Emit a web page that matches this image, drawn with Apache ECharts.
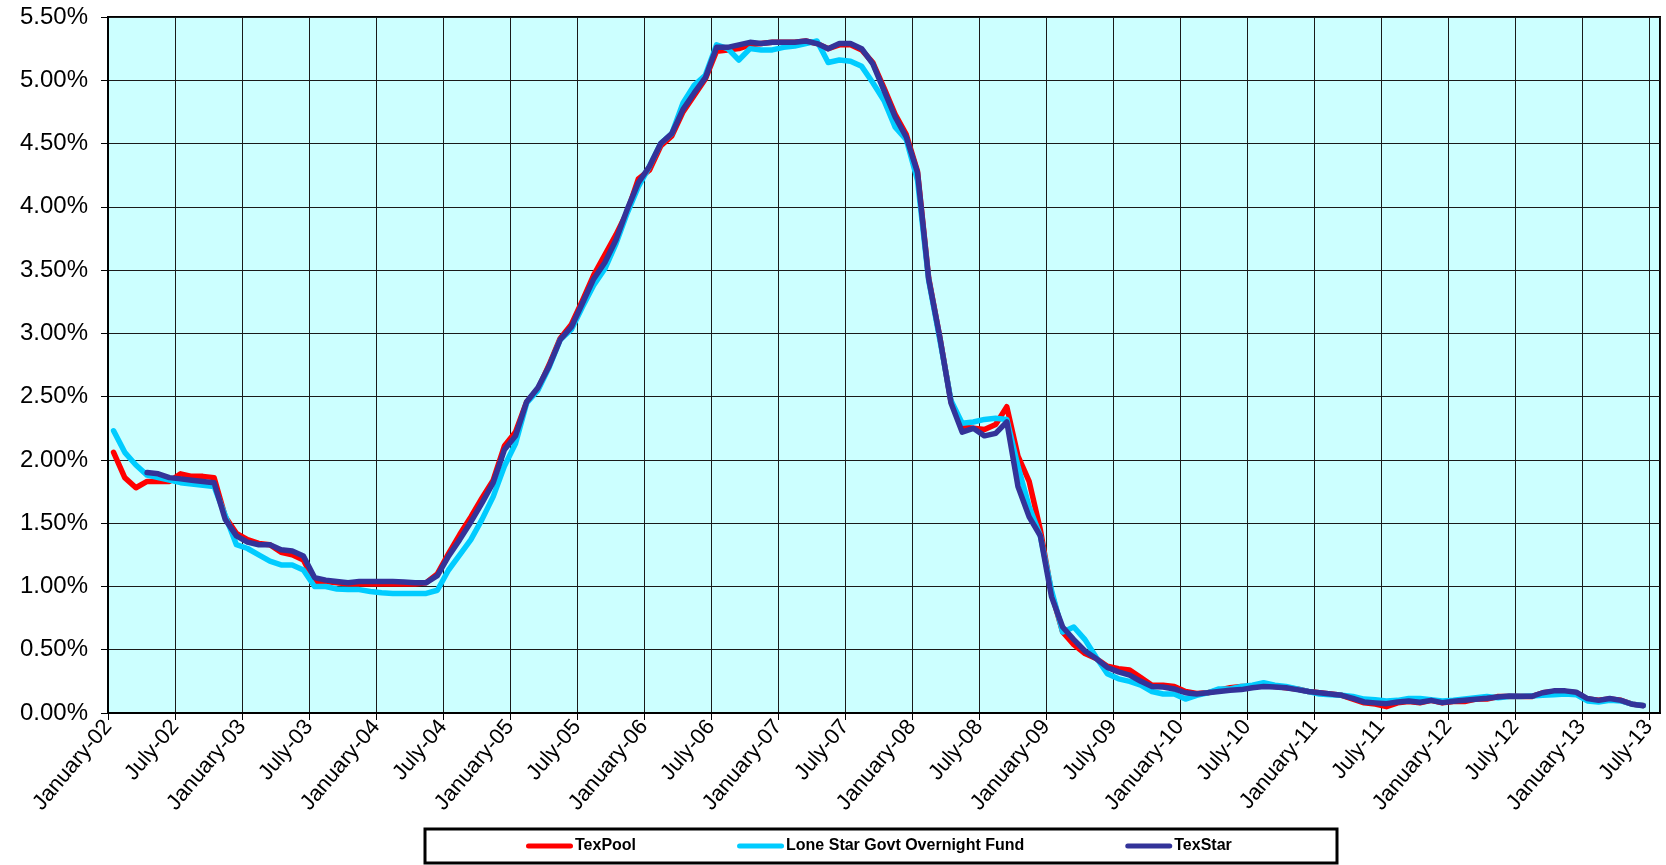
<!DOCTYPE html>
<html>
<head>
<meta charset="utf-8">
<script src="https://cdn.jsdelivr.net/npm/echarts@6/dist/echarts.min.js"></script>
<style>
html,body{margin:0;padding:0;background:#fff;}
#chart{width:1666px;height:865px;}
</style>
</head>
<body>
<div id="chart"></div>
<script>
// Month categories Jan-02 .. Jul-13
const monthNames = ['January','February','March','April','May','June','July','August','September','October','November','December'];
const months = [];
for (let y = 2; y <= 13; y++) {
  for (let m = 0; m < 12; m++) {
    if (y === 13 && m > 6) break;
    months.push(monthNames[m] + '-' + String(y).padStart(2, '0'));
  }
}

const yTicks = [0, 0.5, 1, 1.5, 2, 2.5, 3, 3.5, 4, 4.5, 5, 5.5];

const texPool = [
  2.06,1.86,1.78,1.83,1.83,1.83,1.89,1.87,1.87,1.86,1.55,1.42,
  1.37,1.34,1.33,1.27,1.25,1.21,1.04,1.04,1.03,1.02,1.02,1.02,
  1.02,1.02,1.02,1.02,1.03,1.10,1.26,1.41,1.55,1.70,1.84,2.11,
  2.22,2.46,2.56,2.75,2.96,3.07,3.26,3.46,3.62,3.78,3.96,4.22,
  4.29,4.48,4.56,4.75,4.88,5.01,5.23,5.24,5.25,5.28,5.29,5.30,
  5.30,5.30,5.31,5.29,5.25,5.28,5.28,5.24,5.14,4.94,4.73,4.57,
  4.28,3.44,2.97,2.46,2.26,2.25,2.24,2.28,2.42,2.03,1.83,1.45,
  0.95,0.64,0.54,0.47,0.43,0.37,0.35,0.34,0.28,0.22,0.22,0.21,
  0.17,0.155,0.16,0.18,0.20,0.21,0.21,0.22,0.21,0.20,0.19,0.17,
  0.16,0.15,0.14,0.11,0.08,0.07,0.05,0.08,0.09,0.08,0.10,0.08,
  0.09,0.09,0.11,0.11,0.13,0.13,0.13,0.13,0.16,0.17,0.17,0.16,
  0.11,0.10,0.11,0.10,0.07,0.06,null
];

const loneStar = [
  2.23,2.06,1.96,1.88,1.86,1.84,1.82,1.81,1.80,1.79,1.56,1.33,
  1.30,1.25,1.20,1.17,1.17,1.13,1.00,1.00,0.98,0.975,0.975,0.96,
  0.95,0.945,0.945,0.945,0.945,0.97,1.13,1.25,1.37,1.53,1.71,1.95,
  2.13,2.45,2.55,2.73,2.95,3.03,3.21,3.38,3.51,3.71,3.95,4.16,
  4.32,4.50,4.58,4.82,4.96,5.04,5.28,5.25,5.16,5.25,5.24,5.24,
  5.26,5.27,5.29,5.31,5.14,5.16,5.15,5.11,4.98,4.84,4.63,4.53,
  4.21,3.42,2.95,2.47,2.29,2.30,2.32,2.33,2.32,1.95,1.63,1.40,
  0.97,0.64,0.68,0.58,0.44,0.31,0.27,0.25,0.22,0.17,0.15,0.15,
  0.11,0.14,0.16,0.19,0.19,0.21,0.22,0.24,0.22,0.21,0.19,0.17,
  0.15,0.145,0.14,0.13,0.11,0.105,0.095,0.10,0.115,0.115,0.105,0.095,
  0.10,0.11,0.12,0.13,0.12,0.13,0.13,0.135,0.14,0.145,0.15,0.145,
  0.095,0.087,0.10,0.095,0.07,0.06,null
];

const texStar = [
  null,null,null,1.90,1.89,1.86,1.85,1.84,1.83,1.82,1.53,1.40,
  1.35,1.33,1.33,1.29,1.28,1.24,1.07,1.05,1.04,1.03,1.04,1.04,
  1.04,1.04,1.035,1.03,1.03,1.085,1.24,1.37,1.51,1.66,1.82,2.08,
  2.19,2.46,2.57,2.74,2.95,3.05,3.24,3.43,3.56,3.74,3.98,4.19,
  4.32,4.50,4.58,4.77,4.90,5.02,5.26,5.26,5.28,5.30,5.29,5.30,
  5.30,5.30,5.31,5.29,5.25,5.29,5.29,5.25,5.13,4.92,4.71,4.55,
  4.27,3.43,2.97,2.45,2.22,2.25,2.19,2.21,2.30,1.79,1.55,1.40,
  0.92,0.68,0.58,0.49,0.43,0.36,0.325,0.30,0.25,0.21,0.205,0.19,
  0.16,0.15,0.16,0.17,0.18,0.185,0.20,0.21,0.205,0.20,0.185,0.17,
  0.16,0.15,0.14,0.115,0.087,0.08,0.074,0.087,0.095,0.085,0.10,0.082,
  0.093,0.10,0.108,0.116,0.127,0.135,0.132,0.132,0.16,0.175,0.175,0.164,
  0.114,0.10,0.114,0.10,0.069,0.058,null
];

const seriesNames = ['TexPool', 'Lone Star Govt Overnight Fund', 'TexStar'];
const seriesColors = ['#FF0000', '#00CCFF', '#333399'];

// each monthly value sits in the middle of its month slot
function toPairs(arr) {
  return arr.map((v, i) => [i + 0.5, v]);
}

const FONT = "'Liberation Sans', Arial, sans-serif";
const chart = echarts.init(document.getElementById('chart'), null, {renderer: 'canvas'});

const capsule = 'path://M2.5,0H44.5A2.5,2.5,0,0,1,44.5,5H2.5A2.5,2.5,0,0,1,2.5,0Z';

chart.setOption({
  animation: false,
  backgroundColor: '#ffffff',
  grid: {
    left: 108, top: 17, right: 6, bottom: 152,
    show: true, backgroundColor: '#CCFFFF', borderColor: '#000', borderWidth: 2,
    containLabel: false
  },
  xAxis: {
    type: 'value',
    min: 0, max: months.length, interval: 6,
    axisLine: {show: true, lineStyle: {color: '#000', width: 2}},
    axisTick: {show: true, inside: false, length: 7, lineStyle: {color: '#000', width: 1}},
    splitLine: {show: true, lineStyle: {color: '#1a1a1a', width: 1}},
    axisLabel: {
      rotate: 50, margin: 10, color: '#000', fontFamily: FONT, fontSize: 22,
      showMaxLabel: false,
      formatter: function (v) { return (v % 6 === 0 && months[v]) ? months[v] : ''; }
    }
  },
  yAxis: {
    type: 'value',
    min: yTicks[0], max: yTicks[yTicks.length - 1], interval: 0.5,
    axisLine: {show: true, lineStyle: {color: '#000', width: 2}},
    axisTick: {show: true, inside: false, length: 7, lineStyle: {color: '#000', width: 1}},
    splitLine: {show: true, lineStyle: {color: '#1a1a1a', width: 1}},
    axisLabel: {
      margin: 20, color: '#000', fontFamily: FONT, fontSize: 24,
      formatter: function (v) { return v.toFixed(2) + '%'; }
    }
  },
  legend: {
    left: 526, top: 838, padding: 0,
    itemWidth: 47, itemHeight: 5, itemGap: 101,
    icon: capsule,
    textStyle: {fontFamily: FONT, fontSize: 16, fontWeight: 'bold', color: '#000', lineHeight: 16, padding: [0, 0, 0, -3]},
    data: seriesNames
  },
  graphic: [{
    type: 'rect', z: -1,
    shape: {x: 425, y: 829, width: 912, height: 34},
    style: {fill: '#fff', stroke: '#000', lineWidth: 3}
  }],
  series: [texPool, loneStar, texStar].map((arr, k) => ({
    name: seriesNames[k],
    type: 'line',
    data: toPairs(arr),
    showSymbol: false,
    symbol: 'none',
    connectNulls: false,
    color: seriesColors[k],
    lineStyle: {color: seriesColors[k], width: 5.5, join: 'round', cap: 'round'},
    z: 2 + k
  }))
});
</script>
</body>
</html>
